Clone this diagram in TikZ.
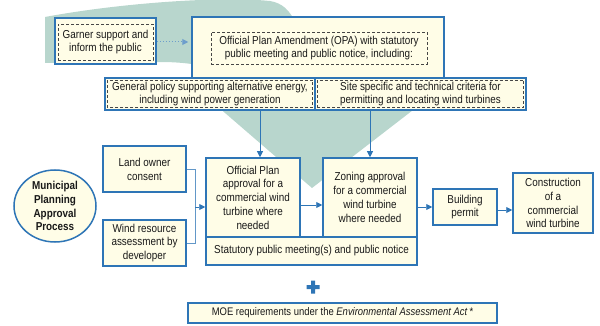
\documentclass[tikz,border=0pt]{standalone}
\usepackage{fontspec}
\setmainfont{Liberation Sans}[FakeStretch=0.86]
\usepackage{tikz}
\usetikzlibrary{shapes.geometric, arrows.meta, positioning, calc}

\definecolor{edgeblue}{RGB}{46,117,182}
\definecolor{paper}{RGB}{255,253,231}
\definecolor{swoosh}{RGB}{184,214,205}
\definecolor{inkgray}{RGB}{70,70,70}

\begin{document}
\begin{tikzpicture}[
  x=1pt, y=-1pt,
  box/.style={rectangle, draw=edgeblue, line width=1.5pt, fill=paper, align=center, inner sep=0pt, text=black!90, font=\fontsize{11.5}{13.8}\selectfont},
  dashbox/.style={rectangle, draw=inkgray, densely dashed, line width=0.6pt, fill=paper, align=center, inner sep=0pt, text=black!90, font=\fontsize{11.5}{13.8}\selectfont},
  dashline/.style={draw=inkgray, densely dashed, line width=0.6pt},
  arrow/.style={-{Triangle[length=6pt,width=6pt]}, draw=edgeblue, line width=0.9pt},
  link/.style={draw=edgeblue!75, line width=0.9pt},
  dotarrow/.style={-{Triangle[length=6pt,width=6pt]}, draw=edgeblue!70, dotted, line width=1pt}
]
  \useasboundingbox (0,0) rectangle (600,326);
  % background swoosh
  \fill[swoosh] (45,17) .. controls (120,3) and (220,-4) .. (270,1)
    .. controls (282,3) and (290,10) .. (296,24) -- (426,100) -- (312,188) -- (210,100)
    -- (245,100) .. controls (240,70) and (200,62) .. (160,62) -- (45,63) -- cycle;

  % top row
  \node[box, minimum width=101pt, minimum height=46pt] (garner) at (105.5,41) {};
  \node[dashbox, minimum width=95pt, minimum height=36pt] (garnertext) at (105.5,42) {Garner support and\\inform the public};
  \node[box, minimum width=252pt, minimum height=78pt] (opa) at (318,56) {};
  \node[dashbox, minimum width=216pt, minimum height=32pt] (opatext) at (319,48) {Official Plan Amendment (OPA) with statutory\\public meeting and public notice, including:};
  \node[box, minimum width=210pt, minimum height=32pt] (gen) at (210,94) {General policy supporting alternative energy,\\including wind power generation};
  \node[box, minimum width=211pt, minimum height=32pt] (site) at (420.5,94) {Site specific and technical criteria for\\permitting and locating wind turbines};
  \draw[dashline] ([shift={(3pt,3pt)}]gen.south west) rectangle ([shift={(-3pt,-3pt)}]gen.north east);
  \draw[dashline] ([shift={(3pt,3pt)}]site.south west) rectangle ([shift={(-3pt,-3pt)}]site.north east);

  % approval row
  \node[ellipse, draw=edgeblue, line width=1.5pt, fill=paper, inner sep=0pt, minimum width=82pt, minimum height=72pt, align=center, font=\fontsize{11.5}{13.8}\selectfont\bfseries, text=black!90] (muni) at (55,206) {Municipal\\Planning\\Approval\\Process};
  \node[box, minimum width=83pt, minimum height=46pt] (land) at (144.5,169) {Land owner\\consent};
  \node[box, minimum width=83pt, minimum height=46pt] (wind) at (144.5,243) {Wind resource\\assessment by\\developer};
  \node[box, minimum width=211pt, minimum height=28pt] (stat) at (311.5,251) {Statutory public meeting(s) and public notice};
  \node[box, minimum width=94pt, minimum height=79pt] (op) at (253,197.5) {Official Plan\\approval for a\\commercial wind\\turbine where\\needed};
  \node[box, minimum width=94pt, minimum height=79pt] (zon) at (370,197.5) {Zoning approval\\for a commercial\\wind turbine\\where needed};
  \node[box, minimum width=64pt, minimum height=36pt] (bld) at (465,207) {Building\\permit};
  \node[box, minimum width=80pt, minimum height=60pt] (con) at (553,203) {Construction\\of a\\commercial\\wind turbine};

  % bottom
  \fill[edgeblue] (306.5,285) rectangle (319.5,289) (311,280.5) rectangle (315,293.5);
  \node[box, minimum width=309pt, minimum height=20pt, font=\fontsize{11}{12}\selectfont] (moe) at (342.5,313) {MOE requirements under the \textit{Environmental Assessment Act}\,*};

  % connectors
  \coordinate (join) at (195,207);
  \draw[dotarrow, shorten >=3pt] (garner.east |- garnertext) -- (opa.west |- garnertext);
  \draw[arrow] ([xshift=7pt]op.north |- gen.south) -- ([xshift=7pt]op.north);
  \draw[arrow] (zon.north |- site.south) -- (zon.north);
  \draw[link] (land.east) -| (join) (wind.east) -| (join);
  \draw[arrow] (join) -- (join -| op.west);
  \draw[arrow] ([yshift=-7.5pt]op.east) -- ([yshift=-7.5pt]op.east -| zon.west);
  \draw[arrow] (zon.east |- bld.west) -- (bld.west);
  \draw[arrow] ([yshift=-3pt]bld.east) -- ([yshift=-3pt]bld.east -| con.west);
\end{tikzpicture}
\end{document}
